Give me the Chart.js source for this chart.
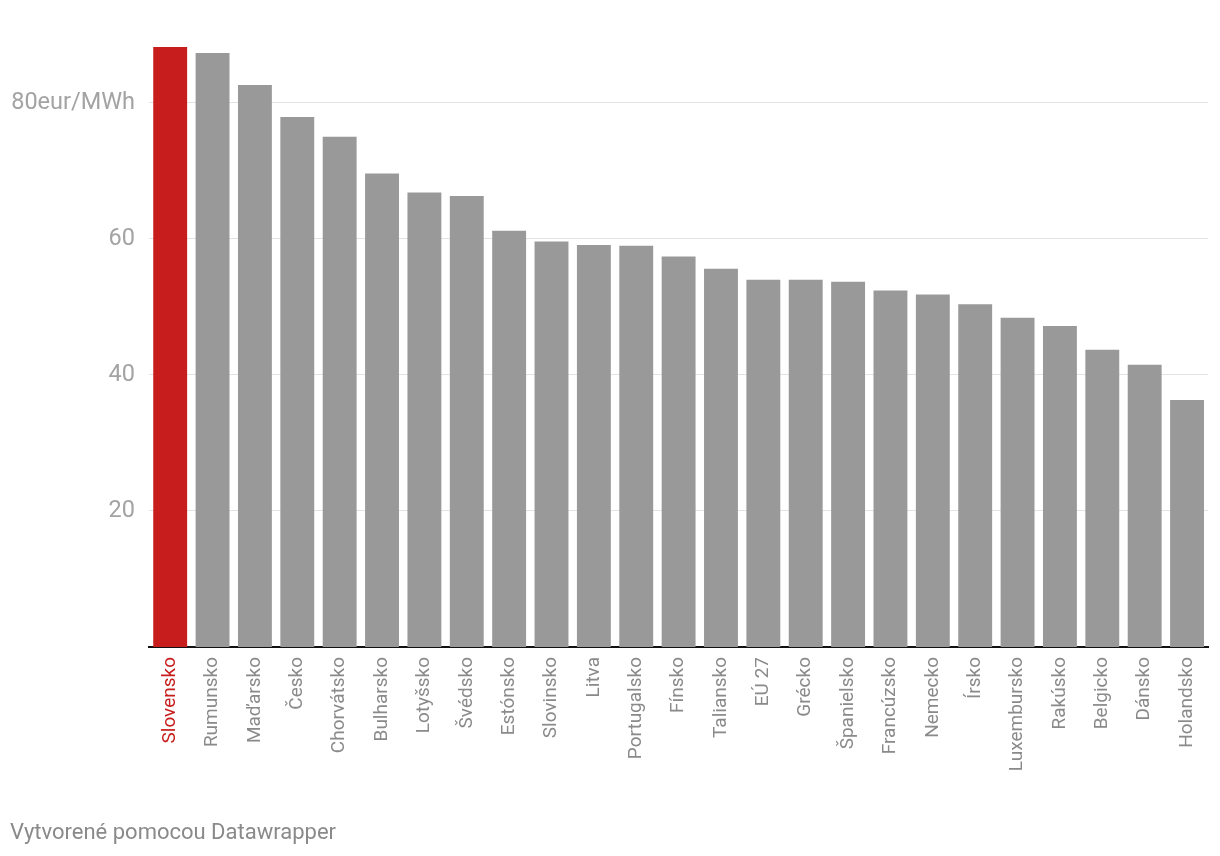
<!DOCTYPE html>
<html>
<head>
<meta charset="utf-8">
<script src="https://cdn.jsdelivr.net/npm/chart.js@4/dist/chart.umd.min.js"></script>
<style>
  html, body { margin: 0; padding: 0; background: #fff; }
  #wrap { position: relative; width: 1220px; height: 856px; }
  #c { position: absolute; left: 0; top: 0; }
  #footer { position: absolute; left: 10px; top: 819px; font-family: Roboto, sans-serif; font-size: 22px; color: #8a8a8a; white-space: nowrap; }
</style>
</head>
<body>
<div id="wrap">
  <canvas id="c" width="1220" height="856"></canvas>
  <div id="footer">Vytvorené pomocou Datawrapper</div>
</div>
<script>
const categories = ["Slovensko","Rumunsko","Maďarsko","Česko","Chorvátsko","Bulharsko","Lotyšsko","Švédsko","Estónsko","Slovinsko","Litva","Portugalsko","Fínsko","Taliansko","EÚ 27","Grécko","Španielsko","Francúzsko","Nemecko","Írsko","Luxembursko","Rakúsko","Belgicko","Dánsko","Holandsko"];
const values = [88.2, 87.3, 82.6, 77.9, 75.0, 69.6, 66.8, 66.3, 61.2, 59.6, 59.1, 59.0, 57.4, 55.6, 54.0, 54.0, 53.7, 52.4, 51.8, 50.4, 48.4, 47.2, 43.7, 41.5, 36.3];
const yTickValues = [20, 40, 60, 80];
const unitLabel = "eur/MWh";
const highlight = "Slovensko";

const RED = "#c71e1d";
const GRAY = "#999999";

const chart = new Chart(document.getElementById("c"), {
  type: "bar",
  data: {
    labels: categories,
    datasets: [{
      data: values,
      backgroundColor: categories.map(c => c === highlight ? RED : GRAY),
      borderWidth: 0,
      barPercentage: 0.8,
      categoryPercentage: 1.0
    }]
  },
  options: {
    responsive: false,
    animation: false,
    devicePixelRatio: 1,
    layout: { padding: { top: 47, right: 8, left: 0, bottom: 0 } },
    plugins: { legend: { display: false }, tooltip: { enabled: false } },
    scales: {
      x: {
        grid: { display: false, drawTicks: false },
        border: { display: true, color: "#111", width: 2 },
        ticks: {
          autoSkip: false,
          minRotation: 90,
          maxRotation: 90,
          padding: 10,
          font: { family: "Roboto", size: 19 },
          color: (ctx) => categories[ctx.index] === highlight ? RED : "#8a8a8a"
        },
        afterFit: (s) => { s.height = 209; }
      },
      y: {
        min: 0,
        max: Math.max(...values),
        grid: { color: "#e3e3e3", lineWidth: 1, drawTicks: false },
        border: { display: false },
        afterBuildTicks: (s) => { s.ticks = yTickValues.map(v => ({ value: v })); },
        ticks: {
          padding: 14,
          font: { family: "Roboto", size: 23.5 },
          color: "#a3a3a3",
          callback: (v) => v === 80 ? v + unitLabel : String(v)
        },
        afterFit: (s) => { s.width = 149; }
      }
    }
  }
});
</script>
</body>
</html>
